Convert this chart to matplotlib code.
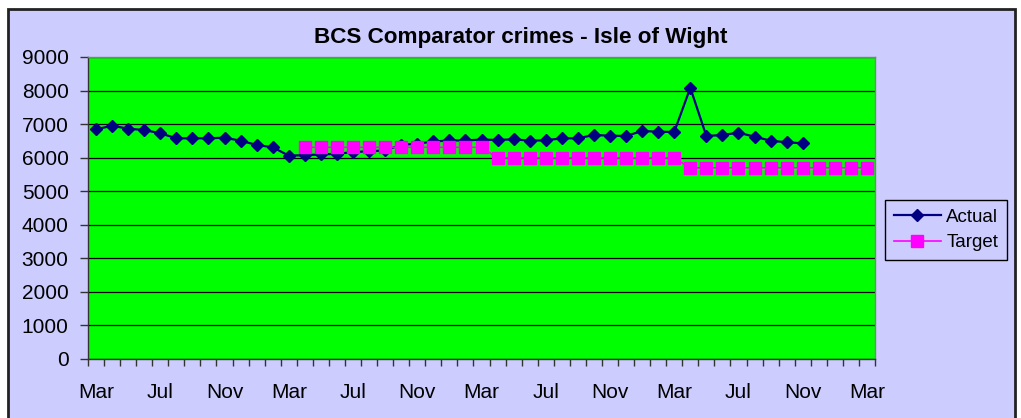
import matplotlib
matplotlib.use("Agg")
import matplotlib.pyplot as plt
from matplotlib.patches import Rectangle
import numpy as np

plt.rcParams['font.family'] = ['Liberation Sans', 'DejaVu Sans']

# Monthly series, March of year 1 through March of year 5 (49 months)
n_months = 49
actual = [6845, 6952, 6863, 6824, 6726, 6577, 6577, 6577, 6595, 6506, 6378, 6310,
          6060, 6075, 6095, 6115, 6165, 6190, 6215, 6384, 6413, 6482, 6512, 6512,
          6540, 6527, 6548, 6506, 6518, 6577, 6577, 6676, 6655, 6646, 6795, 6774,
          6765, 8083, 6646, 6676, 6744, 6625, 6506, 6458, 6429]
target_start = 13
target = [6310] * 12 + [5990] * 12 + [5695] * 12
month_labels = ["Mar", "Jul", "Nov"] * 4 + ["Mar"]
label_step = 4

title = "BCS Comparator crimes - Isle of Wight"
lavender = "#CCCCFF"

W, H = 1021, 418
fig = plt.figure(figsize=(W / 100, H / 100), dpi=100)
fig.patch.set_facecolor("white")

# chart area panel with dark border
fig.patches.append(Rectangle((8 / W, -0.02), (1015 - 8) / W, 1.02 - 9 / H,
                             transform=fig.transFigure, facecolor=lavender,
                             edgecolor="#222222", linewidth=2, zorder=-10))

ax = fig.add_axes([88 / W, 1 - 359 / H, (875 - 88) / W, (359 - 57) / H])
ax.set_facecolor("#00FF00")

x_act = np.arange(len(actual))
x_tgt = np.arange(target_start, target_start + len(target))

ax.plot(x_act, actual, color="#000080", lw=1.6, marker="D", ms=5.8,
        markeredgecolor="#000080", markerfacecolor="#000080", label="Actual", zorder=3)
ax.plot(x_tgt, target, color="#FF00FF", lw=1.2, marker="s", ms=9.0,
        markeredgecolor="#FF00FF", markerfacecolor="#FF00FF", label="Target", zorder=4)

ax.set_xlim(-0.5, n_months - 0.5)
ax.set_ylim(0, 9000)
ax.set_yticks(np.arange(0, 9001, 1000))
ax.yaxis.grid(True, color="black", lw=0.9)
ax.set_axisbelow(True)

ax.set_xticks(np.arange(0, n_months, label_step))
ax.set_xticklabels(month_labels)
ax.set_xticks(np.arange(-0.5, n_months, 1), minor=True)
ax.tick_params(axis="x", which="major", length=0, pad=17, labelsize=15)
ax.tick_params(axis="x", which="minor", length=5, width=1, color="#333333", direction="out")
ax.tick_params(axis="y", length=6, width=1, color="#333333", pad=8, labelsize=15)

for s in ax.spines.values():
    s.set_color("#808080")
    s.set_linewidth(1)
ax.spines["left"].set_color("#333333")
ax.spines["bottom"].set_color("#333333")

fig.text(521 / W, 1 - 37 / H, title, ha="center", va="center",
         fontsize=16.2, fontweight="bold")

leg = fig.legend(loc="center", bbox_to_anchor=(946 / W, 1 - 230 / H), fontsize=13.5,
                 frameon=True, fancybox=False, edgecolor="black", facecolor=lavender,
                 framealpha=1, handlelength=2.5, borderpad=0.45, labelspacing=0.45,
                 handletextpad=0.3)
leg.get_frame().set_linewidth(1)

fig.savefig("out.png", dpi=100, facecolor="white")
